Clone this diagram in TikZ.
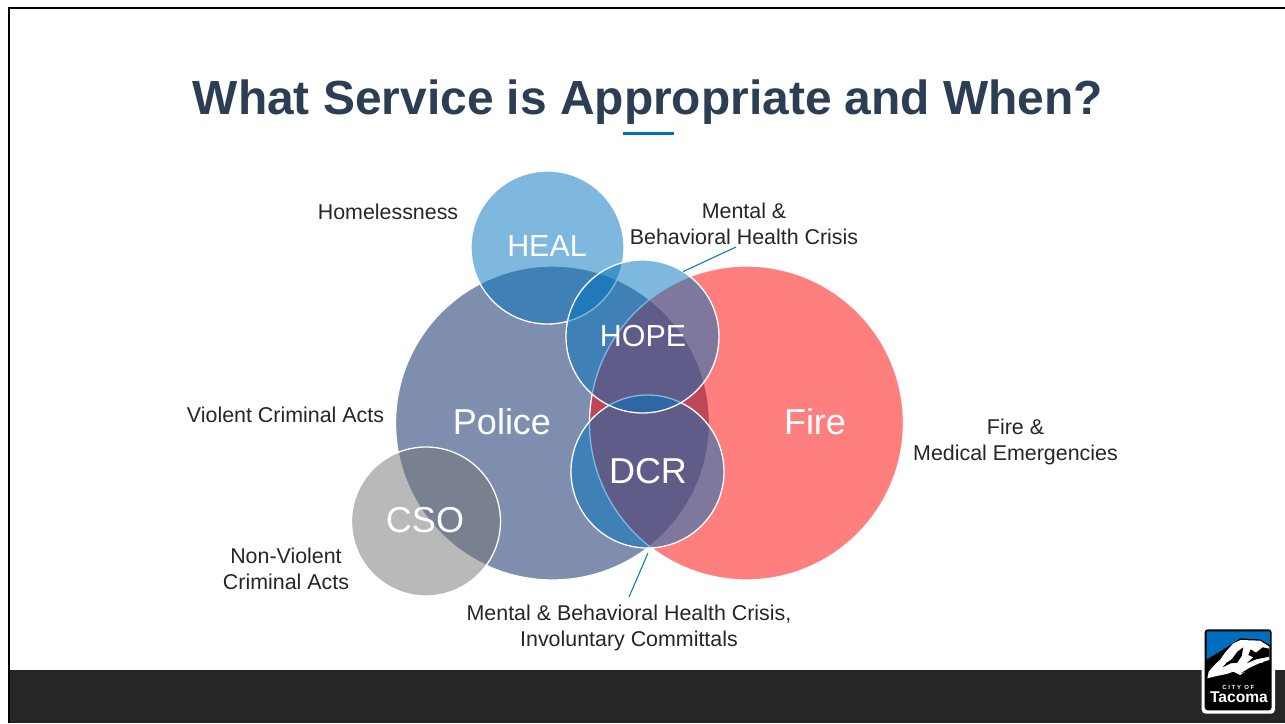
\documentclass[tikz,border=0pt]{standalone}
\usepackage{fontspec}
\setmainfont{Liberation Sans}
\definecolor{titleblue}{RGB}{44,62,84}
\definecolor{textgray}{RGB}{38,38,38}
\definecolor{footer}{RGB}{38,38,38}
\definecolor{accent}{RGB}{0,112,192}
\definecolor{policebase}{RGB}{0,30,95}
\definecolor{firebase}{RGB}{255,0,0}
\definecolor{bluebase}{RGB}{0,115,190}
\definecolor{csobase}{RGB}{117,117,117}
\definecolor{logoblue}{RGB}{0,110,190}
\tikzset{
  venn/.style={circle,inner sep=0pt,outer sep=0pt,draw=white,line width=1.3pt,fill opacity=.5,draw opacity=1},
  big/.style={text=white,font=\fontsize{36}{40}\selectfont,inner sep=0pt},
  smallbig/.style={text=white,font=\fontsize{30.4}{34}\selectfont,inner sep=0pt},
  lbl/.style={text=textgray,font=\fontsize{21.4}{26}\selectfont,align=center,inner sep=0pt},
  leader/.style={draw=accent,line width=1pt}
}
\begin{document}
\begin{tikzpicture}[x=1pt,y=-1pt]
\useasboundingbox (0,0) rectangle (1285,723);
\fill[white] (0,0) rectangle (1285,723);
% frame and footer
\fill[footer] (9,670) rectangle (1285,723);
\fill[black] (8,7) rectangle (1285,9);
\fill[black] (8,7) rectangle (10,723);
% title
\node[text=titleblue,font=\bfseries\fontsize{47.9}{54}\selectfont,inner sep=0pt] (title) at (648,102) {What Service is Appropriate and When?};
\fill[accent] (623,132) rectangle (674,135);
% circles
\node[venn,fill=policebase,minimum size=314pt] (police) at (552.5,423) {};
\node[venn,fill=firebase,minimum size=314pt] (fire) at (746.5,423) {};
\node[venn,fill=bluebase,minimum size=153pt] (heal) at (547.5,247.5) {};
\node[venn,fill=bluebase,minimum size=153pt] (dcr) at (647.5,471.5) {};
\node[venn,fill=bluebase,minimum size=153pt] (hope) at (642.5,336.5) {};
\node[venn,fill=csobase,minimum size=149pt] (cso) at (426,521.5) {};
% circle names
\node[smallbig] (healt) at (547,246) {HEAL};
\node[smallbig] (hopet) at (643,336) {HOPE};
\node[big] (policet) at (502,422) {Police};
\node[big] (firet) at (815,422) {Fire};
\node[big] (dcrt) at (648,471) {DCR};
\node[big] (csot) at (425,520.5) {CSO};
% labels
\node[lbl] (l1) at (388,211.5) {Homelessness};
\node[lbl] (l2) at (744,223.5) {Mental \&\\Behavioral Health Crisis};
\node[lbl] (l3) at (285.5,414.5) {Violent Criminal Acts};
\node[lbl] (l4) at (1015.5,441.5) {Fire \&\\Medical Emergencies};
\node[lbl] (l5) at (286,568.5) {Non-Violent\\Criminal Acts};
\node[lbl] (l6) at (629,627.5) {Mental \& Behavioral Health Crisis,\\Involuntary Committals};
% leaders
\coordinate (e1) at (736,247);
\coordinate (s2) at (648,553);
\coordinate (e2) at (629,597);
\draw[leader] (hope.58) -- (e1);
\draw[leader] (s2) -- (e2);
% logo
\begin{scope}[shift={(1180,610)},x=.3333pt,y=-.3333pt]
\fill[white,rounded corners=4pt] (65,55) rectangle (285,311);
\fill[black,rounded corners=3pt] (74,58) rectangle (275,301);
\fill[logoblue] (80,64) -- (270,64) -- (270,105) -- (240,88) -- (180,85) -- (135,115) -- (80,148) -- cycle;
% snowy mass
\fill[white] (82,205) -- (86,185) -- (108,160) -- (120,150) -- (135,128) -- (160,100) -- (182,90) -- (240,92) -- (268,110) -- (268,150) -- (250,155) -- (235,170) -- (205,180) -- (180,195) -- (160,185) -- (140,192) -- (110,198) -- cycle;
% dark streaks on the mountain
\fill[black] (268,116) -- (248,112) -- (228,128) -- (212,118) -- (205,135) -- (220,142) -- (200,160) -- (228,148) -- (268,140) -- cycle;
\fill[black] (190,112) -- (172,125) -- (155,148) -- (140,158) -- (128,172) -- (152,160) -- (172,158) -- (185,138) -- cycle;
\fill[black] (268,157) -- (238,160) -- (208,174) -- (182,190) -- (212,181) -- (240,172) -- (268,164) -- cycle;
\node[text=white,font=\bfseries\fontsize{6}{6}\selectfont,inner sep=0pt] (cityof) at (175,231) {C I T Y\ \ O F};
\node[text=white,font=\bfseries\fontsize{15.6}{16}\selectfont,inner sep=0pt] (tacoma) at (177,261) {Tacoma};
\end{scope}
\end{tikzpicture}
\end{document}
